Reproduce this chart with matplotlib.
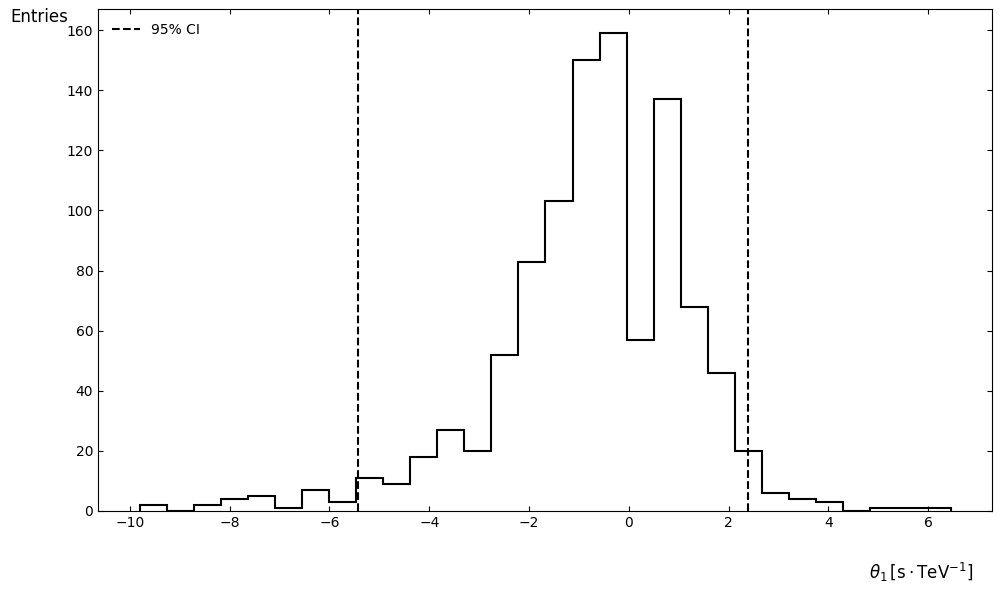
import matplotlib
matplotlib.use("Agg")
import matplotlib.pyplot as plt
import numpy as np

# histogram of theta_1 samples
edge_lo = -9.80
edge_hi = 6.46
counts = [2, 0, 2, 4, 5, 1, 7, 3, 11, 9,
          18, 27, 20, 52, 83, 103, 150, 159, 57, 137,
          68, 46, 20, 6, 4, 3, 0, 1, 1, 1]
ci_lo = -5.43
ci_hi = 2.39

edges = np.linspace(edge_lo, edge_hi, len(counts) + 1)

fig = plt.figure(figsize=(10.01, 5.93), dpi=100)
ax = fig.add_axes([0.0979, 0.1383, 0.8931, 0.8465])

ax.stairs(counts, edges, color="black", linewidth=1.5)
ax.axvline(ci_lo, color="black", linestyle="--", linewidth=1.5, label="95% CI")
ax.axvline(ci_hi, color="black", linestyle="--", linewidth=1.5)

ax.set_xlim(-10.64, 7.28)
ax.set_ylim(0, 167)
ax.tick_params(direction="in", top=True, right=True)
ax.legend(loc="upper left", frameon=False, fontsize=10,
          borderaxespad=0.6)

fig.text(0.01, 0.971, "Entries", fontsize=12, va="center", ha="left")
fig.text(0.972, 0.035, r"$\theta_1\,[\mathrm{s}\cdot\mathrm{TeV}^{-1}]$",
         fontsize=12, va="center", ha="right")

fig.savefig("out.png", dpi=100)
